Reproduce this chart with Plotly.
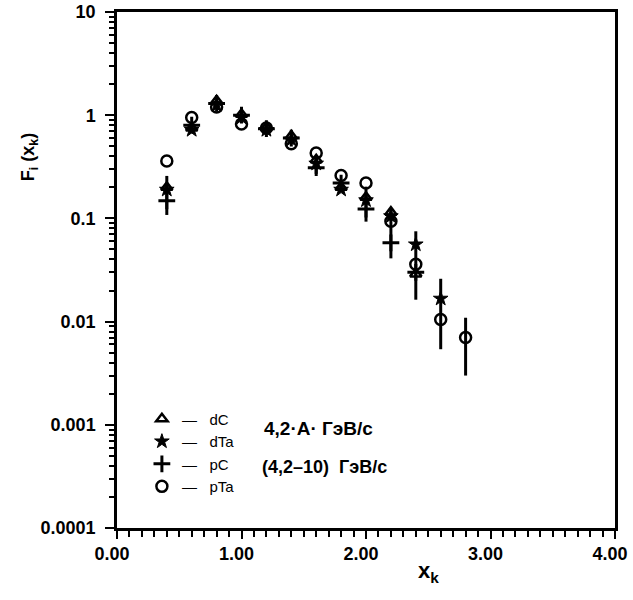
import plotly.graph_objects as go

dC_x = [0.4, 0.6, 0.8, 1.0, 1.2, 1.4, 1.6, 1.8, 2.0, 2.2, 2.4]
dC_y = [0.20, 0.75, 1.38, 1.02, 0.76, 0.63, 0.37, 0.20, 0.16, 0.115, 0.029]

dTa_x = [0.4, 0.6, 0.8, 1.0, 1.2, 1.4, 1.6, 1.8, 2.0, 2.2, 2.4, 2.6]
dTa_y = [0.19, 0.72, 1.25, 0.95, 0.72, 0.58, 0.34, 0.19, 0.15, 0.105, 0.056, 0.0167]

pC_x = [0.4, 0.6, 0.8, 1.0, 1.2, 1.4, 1.6, 1.8, 2.0, 2.2, 2.4]
pC_y = [0.148, 0.80, 1.30, 1.00, 0.74, 0.60, 0.31, 0.22, 0.123, 0.058, 0.030]
pC_err_up = [0.11, 0, 0, 0, 0, 0, 0.09, 0, 0.08, 0.068, 0]
pC_err_dn = [0.04, 0, 0, 0, 0, 0, 0.04, 0, 0.03, 0.017, 0]

pTa_x = [0.4, 0.6, 0.8, 1.0, 1.2, 1.4, 1.6, 1.8, 2.0, 2.2, 2.4, 2.6, 2.8]
pTa_y = [0.36, 0.95, 1.20, 0.82, 0.75, 0.53, 0.43, 0.26, 0.22, 0.094, 0.036, 0.0105, 0.0070]
pTa_err_up = [0, 0, 0, 0, 0, 0, 0, 0, 0, 0, 0.039, 0.0155, 0.0039]
pTa_err_dn = [0, 0, 0, 0, 0, 0, 0, 0, 0, 0, 0.0197, 0.0051, 0.0040]

y_tickvals = [0.0001, 0.001, 0.01, 0.1, 1, 10]
y_ticktext = ["0.0001", "0.001", "0.01", "0.1", "1", "10"]
x_tickvals = [0, 1, 2, 3, 4]
x_ticktext = ["0.00", "1.00", "2.00", "3.00", "4.00"]

font_fam = "Liberation Sans"

fig = go.Figure()

fig.add_trace(go.Scatter(
    x=dC_x, y=dC_y, mode="markers", name="—   dC", legendgroup="d",
    marker=dict(symbol="triangle-up-open", size=10, color="black", line=dict(width=2.5, color="black")),
))
fig.add_trace(go.Scatter(
    x=dTa_x, y=dTa_y, mode="markers", name="—   dTa", legendgroup="d",
    marker=dict(symbol="star", size=11, color="black", line=dict(width=1, color="black")),
))
fig.add_trace(go.Scatter(
    x=pC_x, y=pC_y, mode="markers", name="—   pC", legendgroup="p",
    marker=dict(symbol="cross-thin-open", size=12, color="black", line=dict(width=3, color="black")),
    error_y=dict(type="data", symmetric=False, array=pC_err_up, arrayminus=pC_err_dn,
                 color="black", thickness=3, width=0),
))
fig.add_trace(go.Scatter(
    x=pTa_x, y=pTa_y, mode="markers", name="—   pTa", legendgroup="p",
    marker=dict(symbol="circle-open", size=11, color="black", line=dict(width=2.5, color="black")),
    error_y=dict(type="data", symmetric=False, array=pTa_err_up, arrayminus=pTa_err_dn,
                 color="black", thickness=3, width=0),
))

fig.add_annotation(x=1.165, y=-3.04, xref="x", yref="y", text="<b>4,2·A· ГэВ/c</b>",
                   showarrow=False, xanchor="left", yanchor="middle",
                   font=dict(family=font_fam, size=19, color="black"))
fig.add_annotation(x=1.15, y=-3.41, xref="x", yref="y", text="<b>(4,2–10)  ГэВ/c</b>",
                   showarrow=False, xanchor="left", yanchor="middle",
                   font=dict(family=font_fam, size=18, color="black"))

# axis titles
fig.add_annotation(x=-0.175, y=0.72, xref="paper", yref="paper",
                   text="<b>F<sub>i</sub> (x<sub>k</sub>)</b>", textangle=-90,
                   showarrow=False, xanchor="center", yanchor="middle",
                   font=dict(family=font_fam, size=18, color="black"))
fig.add_annotation(x=0.625, y=-0.085, xref="paper", yref="paper",
                   text="<b>x<sub>k</sub></b>",
                   showarrow=False, xanchor="center", yanchor="middle",
                   font=dict(family=font_fam, size=22, color="black"))

fig.update_layout(
    width=633, height=600,
    margin=dict(l=117, r=18, t=12, b=72),
    paper_bgcolor="white", plot_bgcolor="white",
    font=dict(family=font_fam, color="black"),
    showlegend=True,
    legend=dict(x=0.05, y=0.243, xanchor="left", yanchor="top",
                bgcolor="rgba(0,0,0,0)", font=dict(family=font_fam, size=15, color="black"),
                itemwidth=30, tracegroupgap=0),
)

fig.update_xaxes(
    range=[0, 4], tickvals=x_tickvals, ticktext=x_ticktext, automargin=False,
    showgrid=False, zeroline=False,
    showline=True, linecolor="black", linewidth=2.5, mirror=True,
    ticks="outside", ticklen=8, tickwidth=2, tickcolor="black",
    ticklabelshift=-5,
    minor=dict(dtick=0.1, ticks="outside", ticklen=6, tickwidth=1.5, tickcolor="black", showgrid=False),
    tickfont=dict(family=font_fam, size=18, color="black", weight="bold"),
)
fig.update_yaxes(
    type="log", range=[-4, 1], tickvals=y_tickvals, ticktext=y_ticktext, automargin=False,
    showgrid=False, zeroline=False,
    showline=True, linecolor="black", linewidth=2.5, mirror=True,
    ticks="outside", ticklen=9, tickwidth=2, tickcolor="black",
    ticklabelstandoff=6,
    minor=dict(ticks="outside", ticklen=5, tickwidth=1.5, tickcolor="black", showgrid=False,
               tickvals=[m * 10 ** e for e in range(-4, 1) for m in range(2, 10)]),
    tickfont=dict(family=font_fam, size=18, color="black", weight="bold"),
)

fig.write_html("out.html", config={"displayModeBar": False},
               post_script="document.body.style.margin='0';")
